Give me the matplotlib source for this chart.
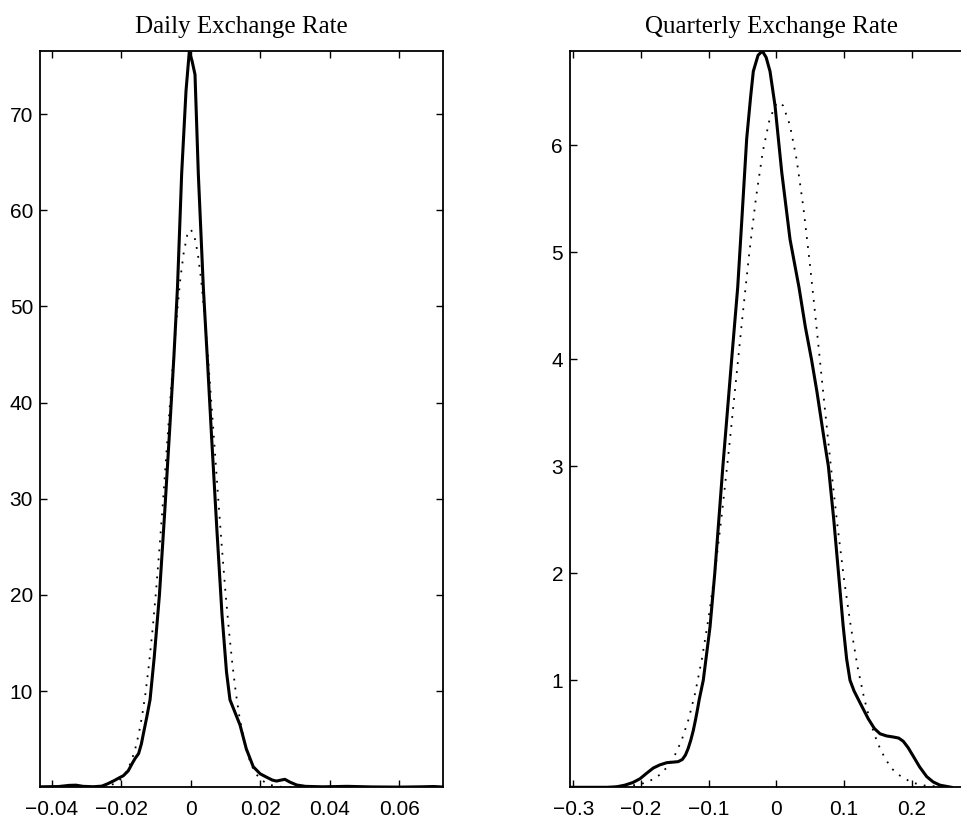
import matplotlib
matplotlib.use("Agg")
import matplotlib.pyplot as plt

# ---------------- data ----------------
titles = ["Daily Exchange Rate", "Quarterly Exchange Rate"]

# Daily: kernel density (solid)
daily_kde_x = [-0.0434, -0.038, -0.035, -0.033, -0.031, -0.028, -0.0256, -0.024, -0.022,
               -0.0205, -0.0194, -0.018, -0.0168, -0.016, -0.015, -0.0142, -0.0136, -0.0127,
               -0.0117, -0.0105, -0.009, -0.0075, -0.006, -0.0048, -0.0038, -0.0026,
               -0.00135, -0.0004, 0.0004, 0.00124, 0.00219, 0.0029, 0.00363, 0.0048, 0.006,
               0.0075, 0.009, 0.0103, 0.0113, 0.0142, 0.016, 0.018, 0.020, 0.0219,
               0.0235, 0.0247, 0.026, 0.0271, 0.0285, 0.0305, 0.033, 0.038, 0.045, 0.052,
               0.060, 0.066, 0.070, 0.0726]
daily_kde_y = [0.05, 0.08, 0.2, 0.22, 0.1, 0.06, 0.12, 0.35, 0.7,
               1.0, 1.2, 1.7, 2.5, 3.0, 3.5, 4.5, 5.6, 7.2,
               9.1, 13.5, 20.0, 28.5, 37.5, 45.0, 52.0, 63.8,
               72.4, 76.5, 75.5, 74.1, 63.8, 58.0, 52.0, 44.5, 36.5,
               27.0, 18.0, 12.0, 9.1, 6.47, 4.0, 2.14, 1.4, 1.04,
               0.75, 0.65, 0.75, 0.83, 0.55, 0.24, 0.1, 0.05, 0.1, 0.04,
               0.02, 0.05, 0.08, 0.03]

# Daily: normal density (dotted)
daily_norm_x = [-0.0434, -0.030, -0.026, -0.024, -0.022, -0.020, -0.019, -0.018, -0.017,
                -0.016, -0.015, -0.014, -0.013, -0.012, -0.011, -0.010, -0.009, -0.008,
                -0.007, -0.006, -0.005, -0.004, -0.003, -0.002, -0.001, 0.0, 0.001, 0.002,
                0.003, 0.004, 0.005, 0.006, 0.007, 0.008, 0.009, 0.010, 0.011, 0.012, 0.013,
                0.014, 0.015, 0.016, 0.017, 0.018, 0.019, 0.020, 0.022, 0.024, 0.026, 0.030,
                0.0726]
daily_norm_y = [0.0, 0.0, 0.05, 0.14, 0.36, 0.87, 1.31, 1.93, 2.79,
                3.94, 5.46, 7.4, 9.8, 12.8, 16.3, 20.3, 24.8, 29.6,
                34.7, 39.7, 44.6, 49.0, 52.8, 55.6, 57.4, 58.0, 57.4, 55.6,
                52.8, 49.0, 44.6, 39.7, 34.7, 29.6, 24.8, 20.3, 16.3, 12.8, 9.8,
                7.4, 5.46, 3.94, 2.79, 1.93, 1.31, 0.87, 0.36, 0.14, 0.05, 0.0,
                0.0]

# Quarterly: kernel density (solid)
quart_kde_x = [-0.305, -0.25, -0.236, -0.224, -0.212, -0.2016, -0.192, -0.182, -0.172,
               -0.162, -0.153, -0.145, -0.139, -0.1345, -0.1305, -0.1265, -0.1228, -0.1195,
               -0.1165, -0.114, -0.108, -0.098, -0.091,
               -0.085, -0.079, -0.0725, -0.066, -0.0571, -0.0512, -0.0438, -0.038, -0.034,
               -0.027, -0.0207, -0.015, -0.0093, -0.0019, 0.008, 0.0203, 0.0336, 0.043,
               0.052, 0.060, 0.066, 0.072, 0.077, 0.085, 0.092, 0.099, 0.104, 0.109,
               0.115, 0.1238, 0.136, 0.145, 0.1534, 0.163, 0.173, 0.181, 0.1878, 0.195,
               0.2026, 0.212, 0.2224, 0.232, 0.242, 0.259]
quart_kde_y = [0.0, 0.0, 0.005, 0.02, 0.045, 0.08, 0.13, 0.18, 0.21,
               0.23, 0.235, 0.24, 0.26, 0.30, 0.36, 0.44, 0.53, 0.63,
               0.73, 0.82, 1.0, 1.5, 2.0,
               2.5, 3.0, 3.5, 4.0, 4.67, 5.28, 6.06, 6.45, 6.69,
               6.84, 6.88, 6.82, 6.69, 6.37, 5.75, 5.12, 4.67, 4.3,
               4.0, 3.7, 3.45, 3.2, 3.0, 2.5, 2.0, 1.5, 1.2, 1.0,
               0.9, 0.79, 0.64, 0.55, 0.50, 0.48, 0.47, 0.46, 0.43, 0.37,
               0.29, 0.19, 0.10, 0.05, 0.02, 0.0]

# Quarterly: normal density (dotted)
quart_norm_x = [-0.305, -0.26, -0.22, -0.20, -0.18, -0.17, -0.16, -0.15, -0.14, -0.13,
                -0.12, -0.11, -0.10, -0.09, -0.08, -0.07, -0.06, -0.05, -0.04, -0.03,
                -0.02, -0.01, 0.0, 0.004, 0.01, 0.02, 0.03, 0.04, 0.05, 0.06, 0.07, 0.08,
                0.09, 0.10, 0.11, 0.12, 0.13, 0.14, 0.15, 0.16, 0.17, 0.18, 0.20, 0.22,
                0.26]
quart_norm_y = [0.0, 0.0, 0.01, 0.03, 0.08, 0.13, 0.20, 0.30, 0.44, 0.63,
                0.88, 1.20, 1.59, 2.05, 2.58, 3.16, 3.78, 4.40, 4.99, 5.51,
                5.94, 6.24, 6.39, 6.40, 6.37, 6.19, 5.87, 5.42, 4.87, 4.27, 3.65, 3.04,
                2.47, 1.95, 1.51, 1.13, 0.83, 0.59, 0.41, 0.28, 0.18, 0.12, 0.045, 0.016,
                0.0]

daily_xticks = [-0.04, -0.02, 0, 0.02, 0.04, 0.06]
daily_xticklabels = ["\u22120.04", "\u22120.02", "0", "0.02", "0.04", "0.06"]
daily_yticks = [10, 20, 30, 40, 50, 60, 70]
quart_xticks = [-0.3, -0.2, -0.1, 0, 0.1, 0.2]
quart_xticklabels = ["\u22120.3", "\u22120.2", "\u22120.1", "0", "0.1", "0.2"]
quart_yticks = [1, 2, 3, 4, 5, 6]

# ---------------- figure ----------------
W, H = 961, 818
fig = plt.figure(figsize=(W / 100, H / 100), dpi=100)

bottom_px, top_px = 787.3, 51
ax1 = fig.add_axes([40 / W, (H - bottom_px) / H, (443 - 40) / W, (bottom_px - top_px) / H])
ax2 = fig.add_axes([570 / W, (H - bottom_px) / H, 403 / W, (bottom_px - top_px) / H])

def style(ax, title):
    for s in ax.spines.values():
        s.set_linewidth(1.3)
        s.set_color("black")
    ax.tick_params(direction="in", length=5, width=1.0, top=True, right=True,
                   labelsize=15, colors="black")
    ax.tick_params(axis="x", pad=9)
    ax.tick_params(axis="y", pad=5)
    for lab in ax.get_xticklabels() + ax.get_yticklabels():
        lab.set_family("Liberation Sans")
    ax.set_title(title, family="Liberation Serif", fontsize=18, pad=13)

dot_style = (0, (1, 4))

ax1.plot(daily_norm_x, daily_norm_y, color="black", lw=1.3, linestyle=dot_style)
ax1.plot(daily_kde_x, daily_kde_y, color="black", lw=2.2, solid_joinstyle="round")
ax1.set_xlim(-0.04337, 0.07261)
ax1.set_ylim(0.0, 76.55)
ax1.set_xticks(daily_xticks)
ax1.set_xticklabels(daily_xticklabels)
ax1.set_yticks(daily_yticks)
style(ax1, titles[0])

ax2.plot(quart_norm_x, quart_norm_y, color="black", lw=1.3, linestyle=dot_style)
ax2.plot(quart_kde_x, quart_kde_y, color="black", lw=2.2, solid_joinstyle="round")
ax2.set_xlim(-0.3051, 0.2909)
ax2.set_ylim(0.0, 6.88)
ax2.set_xticks(quart_xticks)
ax2.set_xticklabels(quart_xticklabels)
ax2.set_yticks(quart_yticks)
style(ax2, titles[1])

fig.savefig("out.png", dpi=100)
